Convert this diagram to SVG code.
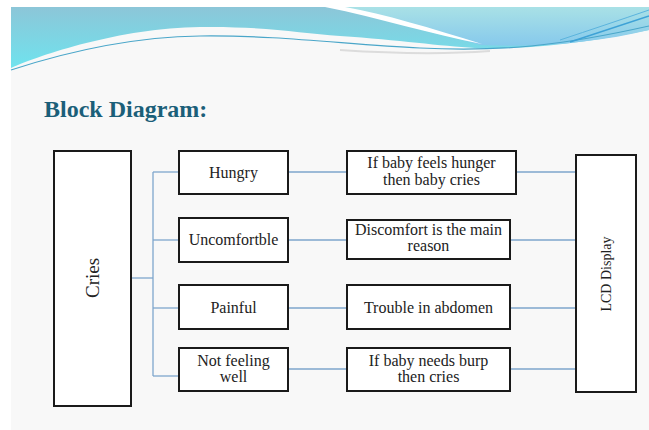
<svg xmlns="http://www.w3.org/2000/svg" width="649" height="430" viewBox="0 0 649 430">
  <defs>
    <linearGradient id="cyan" x1="0" y1="0" x2="0" y2="1">
      <stop offset="0" stop-color="#8cc6d8"/>
      <stop offset="1" stop-color="#6fe3ee"/>
    </linearGradient>
    <linearGradient id="pale" x1="0" y1="0" x2="0" y2="1">
      <stop offset="0" stop-color="#a9e1e6"/>
      <stop offset="1" stop-color="#86c9ec"/>
    </linearGradient>
    <style>
      .box{fill:#ffffff;stroke:#1a1a1a;stroke-width:2}
      .lbl{font-family:"Liberation Serif","Times New Roman",serif;font-size:16px;fill:#222222;text-anchor:middle}
      .wire{fill:none;stroke:#7ea6cc;stroke-width:1.3}
    </style>
  </defs>

  <!-- slide background -->
  <rect x="0" y="0" width="649" height="430" fill="#ffffff"/>
  <rect x="11" y="7" width="638" height="423" fill="#f8f8f8"/>

  <!-- header wave -->
  <path d="M11,7 H649 V30 C600,40 540,50 475,48 C440,46 400,40 340,36 C300,33 260,26 200,27 C120,28 40,55 11,68 Z" fill="url(#cyan)"/>
  <path d="M330,7 H649 V30 C600,42 540,48 480,45 C430,30 380,15 330,7 Z" fill="url(#pale)"/>
  <path d="M325,7 C380,18 430,34 482,44 C430,28 385,14 345,7 Z" fill="#ffffff"/>
  <path d="M11,70 C60,54 130,37 200,36 C280,35 350,45 420,48 C500,52 560,46 649,26" fill="none" stroke="#4aa6c9" stroke-width="1.2"/>
  <path d="M340,50 C400,54 450,54 490,51" fill="none" stroke="#dcdcdc" stroke-width="2"/>
  <path d="M560,40 C590,30 620,20 649,10" fill="none" stroke="#5bb4dd" stroke-width="1"/>
  <path d="M570,42 C600,32 625,24 649,16" fill="none" stroke="#3ea2d6" stroke-width="1.5"/>

  <!-- title -->
  <text x="44" y="117" font-family="'Liberation Serif','Times New Roman',serif" font-size="24" font-weight="bold" fill="#1b5f79">Block Diagram:</text>

  <!-- connectors -->
  <g id="connectors">
    <path class="wire" d="M131,278 H153"/>
    <path class="wire" d="M153,172 V376"/>
    <path class="wire" d="M153,172 H179"/>
    <path class="wire" d="M153,240 H179"/>
    <path class="wire" d="M153,308 H179"/>
    <path class="wire" d="M153,376 H179"/>
    <path class="wire" d="M288,172 H347"/>
    <path class="wire" d="M288,240 H347"/>
    <path class="wire" d="M288,308 H347"/>
    <path class="wire" d="M288,369 H347"/>
    <path class="wire" d="M516,172 H576"/>
    <path class="wire" d="M510,240 H576"/>
    <path class="wire" d="M510,308 H576"/>
    <path class="wire" d="M510,369 H576"/>
  </g>

  <g id="cries">
    <rect class="box" x="54" y="151" width="77" height="255"/>
    <text class="lbl" transform="translate(99,278) rotate(-90)" font-size="19" style="font-size:19px">Cries</text>
  </g>

  <g id="hungry">
    <rect class="box" x="179" y="151" width="109" height="43"/>
    <text class="lbl" x="233.5" y="178">Hungry</text>
  </g>
  <g id="uncomfortble">
    <rect class="box" x="179" y="218" width="109" height="44"/>
    <text class="lbl" x="233.5" y="245">Uncomfortble</text>
  </g>
  <g id="painful">
    <rect class="box" x="179" y="285" width="109" height="44"/>
    <text class="lbl" x="233.5" y="313">Painful</text>
  </g>
  <g id="notwell">
    <rect class="box" x="179" y="348" width="109" height="43"/>
    <text class="lbl" x="233.5" y="366">Not feeling</text>
    <text class="lbl" x="233.5" y="382">well</text>
  </g>

  <g id="hunger">
    <rect class="box" x="347" y="151" width="169" height="43"/>
    <text class="lbl" x="431.5" y="168">If baby feels hunger</text>
    <text class="lbl" x="431.5" y="185">then baby cries</text>
  </g>
  <g id="discomfort">
    <rect class="box" x="347" y="220" width="163" height="39"/>
    <text class="lbl" x="428.5" y="235">Discomfort is the main</text>
    <text class="lbl" x="428.5" y="251">reason</text>
  </g>
  <g id="trouble">
    <rect class="box" x="347" y="285" width="163" height="44"/>
    <text class="lbl" x="428.5" y="313">Trouble in abdomen</text>
  </g>
  <g id="burp">
    <rect class="box" x="347" y="348" width="163" height="43"/>
    <text class="lbl" x="428.5" y="366">If baby needs burp</text>
    <text class="lbl" x="428.5" y="382">then cries</text>
  </g>

  <g id="lcd">
    <rect class="box" x="576" y="155" width="60" height="237"/>
    <text class="lbl" transform="translate(611,274) rotate(-90)" style="font-size:14px">LCD Display</text>
  </g>
</svg>
